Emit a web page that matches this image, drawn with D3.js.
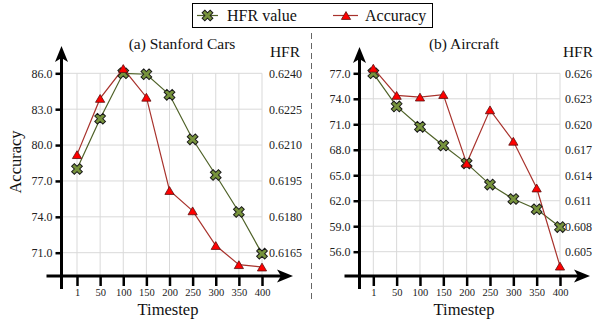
<!DOCTYPE html>
<html>
<head>
<meta charset="utf-8">
<script src="https://cdn.jsdelivr.net/npm/d3@7"></script>
<style>
  html, body { margin: 0; padding: 0; background: #fff; }
  svg text { font-family: "Liberation Serif", "Times New Roman", Times, serif !important; }
</style>
</head>
<body>
<svg id="chart" width="604" height="320"></svg>
<script>
// ---------- data ----------
const categories = ["1", "50", "100", "150", "200", "250", "300", "350", "400"];
const carsAccuracy = [79.2, 83.9, 86.4, 84.0, 76.2, 74.5, 71.6, 70.0, 69.8];
const carsHFR = [0.6200, 0.6221, 0.6240, 0.62396, 0.6231, 0.62124, 0.61975, 0.6182, 0.61646];
const aircraftAccuracy = [77.6, 74.4, 74.2, 74.5, 66.4, 72.7, 69.0, 63.5, 54.3];
const aircraftHFR = [0.6260, 0.6221, 0.6197, 0.6175, 0.6154, 0.6129, 0.6112, 0.6100, 0.6079];
const carsAccTicks = [71.0, 74.0, 77.0, 80.0, 83.0, 86.0];
const carsHFRTicks = [0.6165, 0.6180, 0.6195, 0.6210, 0.6225, 0.6240];
const aircraftAccTicks = [56.0, 59.0, 62.0, 65.0, 68.0, 71.0, 74.0, 77.0];
const aircraftHFRTicks = [0.605, 0.608, 0.611, 0.614, 0.617, 0.620, 0.623, 0.626];
const titles = ["(a) Stanford Cars", "(b) Aircraft"];
const legendLabels = ["HFR value", "Accuracy"];

// ---------- styles ----------
const hfrLine = "#4f6228", hfrFill = "#77933c";
const accLine = "#a8322c", accFill = "#ff0000";
const gridColor = "#d9d9d9";

const svg = d3.select("#chart");

// triangle centred on its bounding box
const triBox = {
  draw(ctx, size) {
    const w = Math.sqrt(size * 2 / 0.85);
    const h = w * 0.85;
    ctx.moveTo(0, -h / 2);
    ctx.lineTo(w / 2, h / 2);
    ctx.lineTo(-w / 2, h / 2);
    ctx.closePath();
  }
};
const triPath = d3.symbol().type(triBox).size(36)();
const crossPath = d3.symbol().type(d3.symbolCross).size(72)();

function arrowUp(g, x, y) {
  g.append("path")
    .attr("d", `M${x},${y} L${x + 6.5},${y + 16} L${x},${y + 12} L${x - 6.5},${y + 16} Z`)
    .attr("fill", "#000");
}
function arrowRight(g, x, y) {
  g.append("path")
    .attr("d", `M${x},${y} L${x - 16},${y - 6.5} L${x - 12},${y} L${x - 16},${y + 6.5} Z`)
    .attr("fill", "#000");
}

function panel(cfg) {
  const g = svg.append("g");
  const x = d3.scalePoint().domain(categories).range([cfg.x0, cfg.x1]);
  const yA = d3.scaleLinear().domain(cfg.accDomain).range([cfg.yBottomTick, cfg.yTopTick]);
  const yH = d3.scaleLinear().domain(cfg.hfrDomain).range([cfg.yBottomTick, cfg.yTopTick]);
  const axisY = cfg.axisY;      // x-axis pixel row
  const axisX = cfg.axisX;      // y-axis pixel column
  const gridTop = yA(cfg.accTicks[cfg.accTicks.length - 1]);

  // grid
  g.append("g").selectAll("line.h").data(cfg.accTicks).join("line")
    .attr("x1", axisX).attr("x2", x(categories[categories.length - 1]))
    .attr("y1", d => yA(d)).attr("y2", d => yA(d))
    .attr("stroke", gridColor).attr("stroke-width", 1);
  g.append("g").selectAll("line.v").data(categories).join("line")
    .attr("x1", d => x(d)).attr("x2", d => x(d))
    .attr("y1", gridTop).attr("y2", axisY)
    .attr("stroke", gridColor).attr("stroke-width", 1);

  // left accuracy axis
  const la = g.append("g").attr("transform", `translate(${axisX},0)`)
    .call(d3.axisLeft(yA).tickValues(cfg.accTicks).tickFormat(d3.format(".1f")).tickSize(6).tickPadding(3));
  la.select(".domain").remove();
  la.selectAll(".tick line").attr("stroke", "#000").attr("stroke-width", 2.5);
  la.selectAll(".tick text").attr("font-size", 12).attr("fill", "#222");

  // right HFR axis (labels only)
  const ra = g.append("g").attr("transform", `translate(${x(categories[categories.length - 1])},0)`)
    .call(d3.axisRight(yH).tickValues(cfg.hfrTicks).tickFormat(d3.format(cfg.hfrFmt)).tickSize(0).tickPadding(cfg.hfrPad));
  ra.select(".domain").remove();
  ra.selectAll(".tick text").attr("font-size", 12).attr("fill", "#222");

  // bottom axis
  const ba = g.append("g").attr("transform", `translate(0,${axisY})`)
    .call(d3.axisBottom(x).tickSize(10).tickPadding(3));
  ba.select(".domain").remove();
  ba.selectAll(".tick line").attr("stroke", "#000").attr("stroke-width", 2.5);
  ba.selectAll(".tick text").attr("font-size", 10.5).attr("fill", "#222");

  // axis lines with arrows
  g.append("line").attr("x1", axisX).attr("x2", axisX).attr("y1", cfg.arrowTop + 10).attr("y2", axisY + 13)
    .attr("stroke", "#000").attr("stroke-width", 3);
  arrowUp(g, axisX, cfg.arrowTop);
  g.append("line").attr("x1", axisX - 15).attr("x2", cfg.arrowRight - 10).attr("y1", axisY).attr("y2", axisY)
    .attr("stroke", "#000").attr("stroke-width", 3);
  arrowRight(g, cfg.arrowRight, axisY);

  // HFR series
  const hfrData = categories.map((c, i) => [c, cfg.hfr[i]]);
  g.append("path").datum(hfrData)
    .attr("d", d3.line().x(d => x(d[0])).y(d => yH(d[1])))
    .attr("fill", "none").attr("stroke", hfrLine).attr("stroke-width", 1.2);
  // Accuracy series
  const accData = categories.map((c, i) => [c, cfg.acc[i]]);
  g.append("path").datum(accData)
    .attr("d", d3.line().x(d => x(d[0])).y(d => yA(d[1])))
    .attr("fill", "none").attr("stroke", accLine).attr("stroke-width", 1.2);

  g.append("g").selectAll("path").data(hfrData).join("path")
    .attr("d", crossPath)
    .attr("transform", d => `translate(${x(d[0])},${yH(d[1])}) rotate(45)`)
    .attr("fill", hfrFill).attr("stroke", "#1a1a1a").attr("stroke-width", 1);
  g.append("g").selectAll("path").data(accData).join("path")
    .attr("d", triPath)
    .attr("transform", d => `translate(${x(d[0])},${yA(d[1])})`)
    .attr("fill", accFill).attr("stroke", "#5a1010").attr("stroke-width", 0.8);

  // texts
  g.append("text").attr("x", cfg.titleX).attr("y", 49).attr("text-anchor", "middle")
    .attr("font-size", 15.5).attr("fill", "#111").text(cfg.title);
  g.append("text").attr("x", cfg.hfrLabelX).attr("y", 57).attr("text-anchor", "middle")
    .attr("font-size", 15.5).attr("fill", "#111").text("HFR");
  g.append("text").attr("x", cfg.xLabelX).attr("y", 315).attr("text-anchor", "middle")
    .attr("font-size", 16.5).attr("fill", "#111").text("Timestep");
}

panel({
  x0: 77, x1: 262, axisX: 61.5, axisY: 276, arrowTop: 46, arrowRight: 293,
  accDomain: [71, 86], yBottomTick: 252.7, yTopTick: 73.3,
  hfrDomain: [0.6165, 0.6240], accTicks: carsAccTicks, hfrTicks: carsHFRTicks,
  hfrFmt: ".4f", hfrPad: 7, acc: carsAccuracy, hfr: carsHFR,
  title: titles[0], titleX: 182, hfrLabelX: 285, xLabelX: 168
});
panel({
  x0: 373.3, x1: 560, axisX: 359.5, axisY: 276, arrowTop: 47, arrowRight: 590,
  accDomain: [56, 77], yBottomTick: 251.7, yTopTick: 73.3,
  hfrDomain: [0.605, 0.626], accTicks: aircraftAccTicks, hfrTicks: aircraftHFRTicks,
  hfrFmt: ".3f", hfrPad: 5, acc: aircraftAccuracy, hfr: aircraftHFR,
  title: titles[1], titleX: 464, hfrLabelX: 578, xLabelX: 464
});

// y label
svg.append("text").attr("transform", "translate(21,162) rotate(-90)")
  .attr("text-anchor", "middle").attr("font-size", 16.5).attr("fill", "#111").text("Accuracy");

// divider
svg.append("line").attr("x1", 311.5).attr("x2", 311.5).attr("y1", 33).attr("y2", 300)
  .attr("stroke", "#666").attr("stroke-width", 1).attr("stroke-dasharray", "6,4");

// legend
const lg = svg.append("g");
lg.append("rect").attr("x", 192.5).attr("y", 3.5).attr("width", 240).attr("height", 24)
  .attr("fill", "#fff").attr("stroke", "#000").attr("stroke-width", 1);
lg.append("line").attr("x1", 197).attr("x2", 218).attr("y1", 15.5).attr("y2", 15.5)
  .attr("stroke", hfrLine).attr("stroke-width", 1.2);
lg.append("path").attr("d", crossPath).attr("transform", "translate(207.5,15.5) rotate(45)")
  .attr("fill", hfrFill).attr("stroke", "#1a1a1a").attr("stroke-width", 1);
lg.append("text").attr("x", 227).attr("y", 21).attr("font-size", 16).attr("fill", "#111").text(legendLabels[0]);
lg.append("line").attr("x1", 333).attr("x2", 358).attr("y1", 15.5).attr("y2", 15.5)
  .attr("stroke", accLine).attr("stroke-width", 1.2);
lg.append("path").attr("d", triPath).attr("transform", "translate(346,15.5)")
  .attr("fill", accFill).attr("stroke", "#5a1010").attr("stroke-width", 0.8);
lg.append("text").attr("x", 365).attr("y", 21).attr("font-size", 16).attr("fill", "#111").text(legendLabels[1]);
</script>
</body>
</html>
